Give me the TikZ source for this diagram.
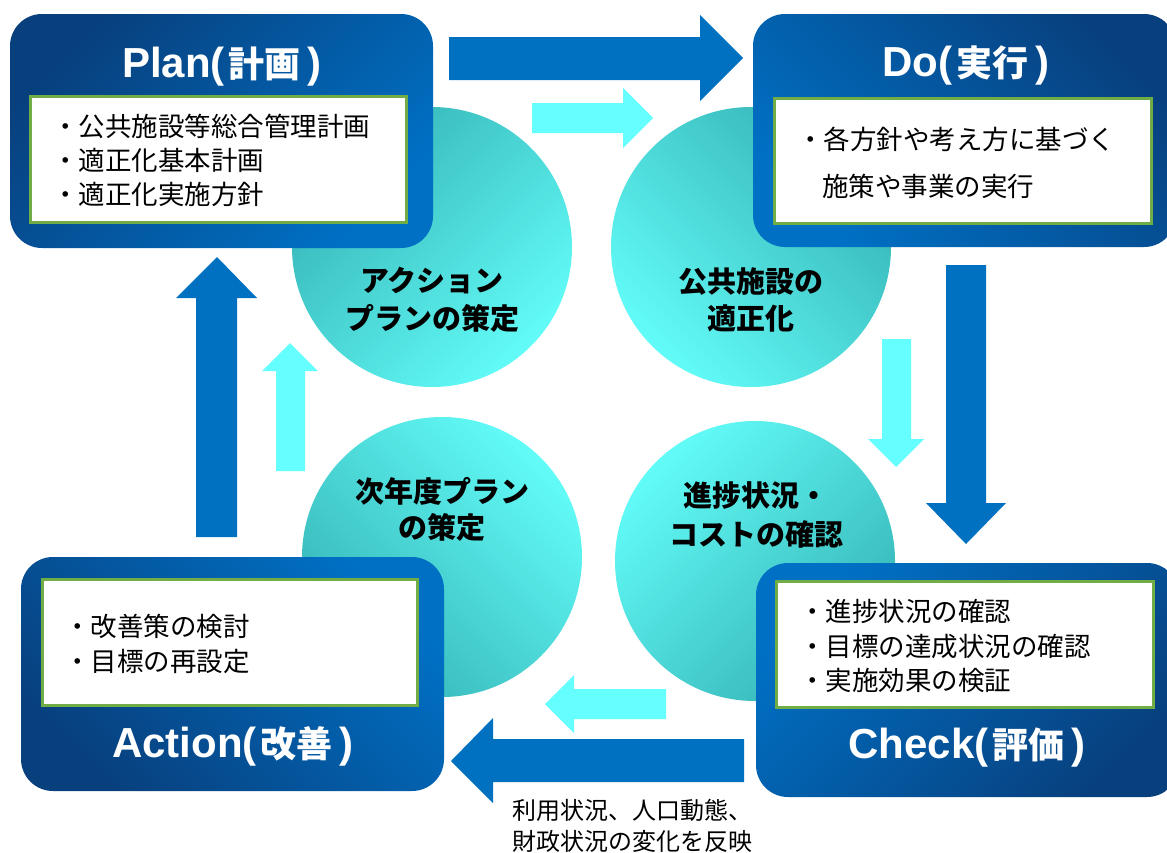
\documentclass[tikz,border=0pt]{standalone}
\usepackage{fontspec}
\newfontfamily\jpf{Noto Sans CJK JP}
\newfontfamily\latf{Liberation Sans}
\definecolor{arrowblue}{HTML}{0070C0}
\definecolor{arrowcyan}{HTML}{66FFFF}
\definecolor{boxdark}{HTML}{08407E}
\definecolor{boxlight}{HTML}{0070C4}
\definecolor{boxgreen}{HTML}{70AD47}
\definecolor{tealdark}{HTML}{36B4B6}
\definecolor{teallight}{HTML}{62FCF8}
\newcommand\pdcattl[2]{{\latf\bfseries\fontsize{42}{42}\selectfont #1(}\hspace{4pt}{\jpf\bfseries\fontsize{36}{36}\selectfont #2}\hspace{7pt}{\latf\bfseries\fontsize{42}{42}\selectfont )}}
\tikzset{
  bluearrow/.style={fill=arrowblue, draw=none},
  cyanarrow/.style={fill=arrowcyan, draw=none},
  bodytext/.style={font=\jpf\fontsize{26.5}{30}\selectfont, anchor=base west, inner sep=0pt, text=black},
  notetext/.style={font=\jpf\fontsize{24}{28}\selectfont, anchor=base west, inner sep=0pt, text=black},
  circtext/.style={font=\jpf\bfseries\fontsize{29}{33}\selectfont, anchor=base, inner sep=0pt, text=black},
  titletext/.style={text=white, anchor=base, inner sep=0pt},
  innerbox/.style={fill=white, draw=boxgreen, line width=3pt},
  outerbox/.style={rounded corners=32pt, draw=none},
  circ/.style={draw=none},
}
\begin{document}
\begin{tikzpicture}[x=1pt,y=-1pt]
\clip (0,0) rectangle (1167,852);
\fill[white] (0,0) rectangle (1167,852);

% circles
\shade[circ, top color=tealdark, bottom color=teallight, shading angle=45] (432,247) circle[radius=140];
\shade[circ, top color=tealdark, bottom color=teallight, shading angle=-45] (751,247) circle[radius=140];
\shade[circ, bottom color=tealdark, top color=teallight, shading angle=-45] (442,557) circle[radius=140];
\shade[circ, bottom color=tealdark, top color=teallight, shading angle=45] (755,561) circle[radius=140];

\node[circtext] (c1a) at (432,291) {アクション};
\node[circtext] (c1b) at (432,329) {プランの策定};
\node[circtext] (c2a) at (751,292) {公共施設の};
\node[circtext] (c2b) at (751,329) {適正化};
\node[circtext] (c3a) at (442,502) {次年度プラン};
\node[circtext] (c3b) at (442,538) {の策定};
\node[circtext] (c4a) at (756,506) {進捗状況・};
\node[circtext] (c4b) at (756,545) {コストの確認};

% big arrows
\fill[bluearrow] (449,37) -- (700,37) -- (700,15) -- (743,58) -- (700,101) -- (700,80) -- (449,80) -- cycle;
\fill[bluearrow] (946,265) -- (986,265) -- (986,503) -- (1006,503) -- (966,544) -- (926,503) -- (946,503) -- cycle;
\fill[bluearrow] (744,739) -- (493,739) -- (493,718) -- (451,761) -- (493,803) -- (493,782) -- (744,782) -- cycle;
\fill[bluearrow] (196,537) -- (196,298) -- (176,298) -- (217,257) -- (257,298) -- (237,298) -- (237,537) -- cycle;

% light arrows
\fill[cyanarrow] (532,103) -- (623,103) -- (623,88) -- (653,118) -- (623,148) -- (623,133) -- (532,133) -- cycle;
\fill[cyanarrow] (882,339) -- (911,339) -- (911,439) -- (924,439) -- (896,467) -- (868,439) -- (882,439) -- cycle;
\fill[cyanarrow] (666,689) -- (574,689) -- (574,675) -- (545,704) -- (574,733) -- (574,719) -- (666,719) -- cycle;
\fill[cyanarrow] (276,471) -- (276,371) -- (262,371) -- (290,343) -- (318,371) -- (305,371) -- (305,471) -- cycle;

% Plan box
\shade[outerbox, top color=boxdark, bottom color=boxlight, shading angle=45] (10,14) rectangle (433,248);
\draw[innerbox] (30.5,96.5) rectangle (406.5,222.5);
\node[titletext] (plant) at (222,77) {\pdcattl{Plan}{計画}};
\node[bodytext] (p1) at (52,136) {・公共施設等総合管理計画};
\node[bodytext] (p2) at (52,170) {・適正化基本計画};
\node[bodytext] (p3) at (52,204) {・適正化実施方針};

% Do box
\shade[outerbox, top color=boxdark, bottom color=boxlight, shading angle=-45] (753,14) rectangle (1176,247);
\draw[innerbox] (774.5,98.5) rectangle (1151.5,223.5);
\node[titletext] (dot) at (966,76) {\pdcattl{Do}{実行}};
\node[bodytext] (d1) at (797,149) {・各方針や考え方に基づく};
\node[bodytext] (d2) at (822,196) {施策や事業の実行};

% Action box
\shade[outerbox, bottom color=boxdark, top color=boxlight, shading angle=-45] (21,557) rectangle (444,791);
\draw[innerbox] (42.5,579.5) rectangle (417.5,705.5);
\node[titletext] (actt) at (233,757) {\pdcattl{Action}{改善}};
\node[bodytext] (a1) at (64,636) {・改善策の検討};
\node[bodytext] (a2) at (64,671) {・目標の再設定};

% Check box
\shade[outerbox, bottom color=boxdark, top color=boxlight, shading angle=45] (756,563) rectangle (1179,797);
\draw[innerbox] (776.5,581.5) rectangle (1153.5,707.5);
\node[titletext] (chkt) at (967,758) {\pdcattl{Check}{評価}};
\node[bodytext] (k1) at (799,621) {・進捗状況の確認};
\node[bodytext] (k2) at (799,656) {・目標の達成状況の確認};
\node[bodytext] (k3) at (799,690) {・実施効果の検証};

% note
\node[notetext] (n1) at (512,819) {利用状況、人口動態、};
\node[notetext] (n2) at (512,850) {財政状況の変化を反映};
\end{tikzpicture}
\end{document}
